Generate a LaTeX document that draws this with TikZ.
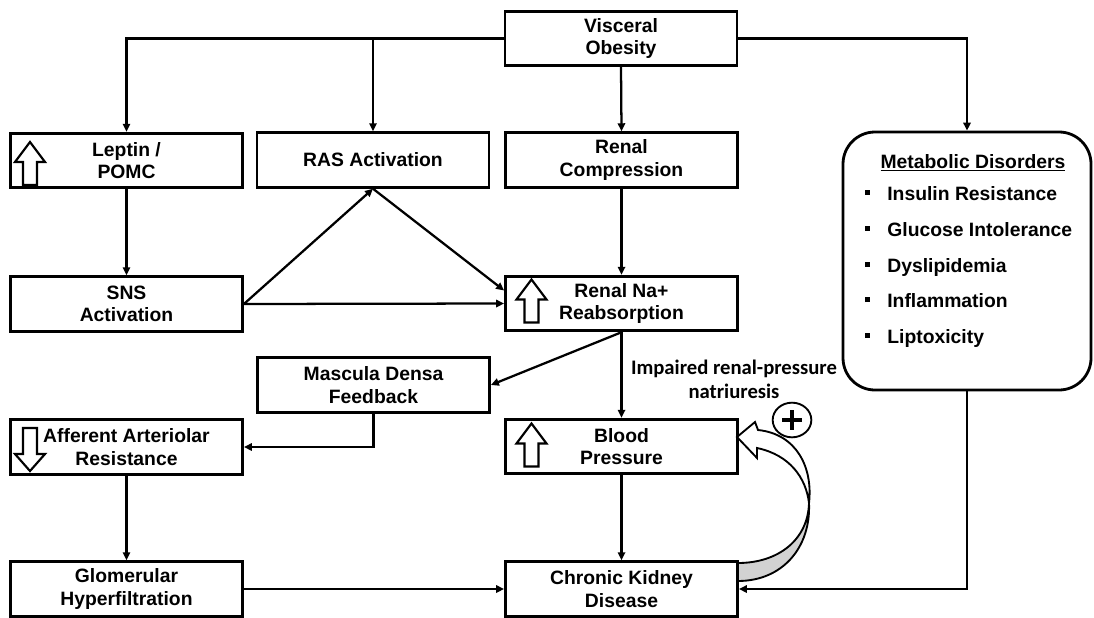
\documentclass[tikz,border=0pt]{standalone}
\usepackage{fontspec}
\setmainfont{Liberation Sans}
\newfontfamily\calib{Carlito}
\usetikzlibrary{arrows.meta,calc,shapes.geometric}
\newcommand\mbul{\rule[4pt]{3.8pt}{3.8pt}\hspace{12.75pt}}
\begin{document}
\begin{tikzpicture}[x=0.75pt,y=-0.75pt,
  bx/.style={draw, line width=2.1pt, rectangle, fill=white, align=center, inner sep=0pt,
    font=\bfseries\fontsize{14.5}{16.8}\selectfont, minimum width=174pt, minimum height=41pt},
  mbox/.style={draw, line width=2.1pt, rectangle, rounded corners=24pt, minimum width=186pt, minimum height=193.5pt},
  txt/.style={font=\bfseries\fontsize{14.5}{16.8}\selectfont, inner sep=0pt},
  arr/.style={line width=1.7pt, -{Triangle[length=6pt,width=5.5pt]}},
  hollowup/.pic={\draw[line width=1.6pt, fill=white, line join=miter] (0,-21.5) -- (15,-1.5) -- (7,-1.5) -- (7,21.5) -- (-7,21.5) -- (-7,-1.5) -- (-15,-1.5) -- cycle;},
  hollowdown/.pic={\draw[line width=1.6pt, fill=white, line join=miter] (0,21.5) -- (15,4.5) -- (7,4.5) -- (7,-21.5) -- (-7,-21.5) -- (-7,4.5) -- (-15,4.5) -- cycle;}
]
\useasboundingbox (0,0) rectangle (1094,617);

% boxes
\node[bx] (vis) at (621,38.5) {Visceral\\Obesity};
\node[bx] (lep) at (126.5,160.5) {Leptin /\\POMC};
\node[bx] (ras) at (373,160) {RAS Activation};
\node[bx] (rc) at (621.5,160) {Renal\\Compression};
\node[mbox] (met) at (967,261) {};
\node[bx] (sns) at (126.5,304) {SNS\\Activation};
\node[bx] (na) at (621.5,303.5) {Renal Na+\\Reabsorption};
\node[bx] (md) at (373.5,385) {Mascula Densa\\Feedback};
\node[bx] (aff) at (126.5,447) {Afferent Arteriolar\\Resistance};
\node[bx] (bp) at (621.5,446.5) {Blood\\Pressure};
\node[bx] (glo) at (126.5,589) {Glomerular\\Hyperfiltration};
\node[bx] (ckd) at (621.5,589) {Chronic Kidney\\Disease};

% hollow block arrows in boxes
\pic at (30,163.5) {hollowup};
\pic at (531.5,301) {hollowup};
\pic at (531.5,445) {hollowup};
\pic at (30,449.5) {hollowdown};

% metabolic disorders text
\node[txt, anchor=base] (mh) at (973,168) {\underline{Metabolic Disorders}};
\node[txt, anchor=base west] (m1) at (865,200) {\mbul Insulin Resistance};
\node[txt, anchor=base west] (m2) at (865,236) {\mbul Glucose Intolerance};
\node[txt, anchor=base west] (m3) at (865,272) {\mbul Dyslipidemia};
\node[txt, anchor=base west] (m4) at (865,307.5) {\mbul Inflammation};
\node[txt, anchor=base west] (m5) at (865,343) {\mbul Liptoxicity};

% connectors
\draw[arr] (vis.west) -| (lep.north);
\draw[arr] (ras.north |- vis.west) -- (ras.north);
\draw[arr] (vis.south) -- (rc.north);
\draw[arr] (vis.east) -| (met.north);
\draw[arr] (lep.south) -- (sns.north);
\draw[arr] (sns.east) -- (ras.south);
\draw[arr] (sns.east) -- (na.west);
\draw[arr] (ras.south) -- ($(na.west)+(0,-13)$);
\draw[arr] (rc.south) -- (na.north);
\draw[arr] (na.south) -- (md.east);
\draw[arr] (na.south) -- (bp.north);
\draw[arr] (md.south) |- (aff.east);
\draw[arr] (aff.south) -- (glo.north);
\draw[arr] (bp.south) -- (ckd.north);
\draw[arr] (glo.east) -- (ckd.west);
\draw[arr] (met.south) |- (ckd.east);

% label
\node[font=\calib\bfseries\fontsize{15.5}{18}\selectfont, align=center, inner sep=0pt] (imp) at (734,379) {Impaired renal-pressure\\natriuresis};

% curved feedback arrow
\draw[line width=1.4pt, fill=gray!35, line join=round] (738,563) .. controls (778,563) and (808,540) .. (809,503) .. controls (811,548) and (782,581) .. (738,581) -- cycle;
\draw[line width=1.4pt, fill=white, line join=miter] (809,503) .. controls (806,478) and (790,455) .. (757,448) -- (757,458) -- (737,437) -- (755,422) -- (758,430) .. controls (797,434) and (813,468) .. (809,503) -- cycle;

% plus sign
\node[ellipse, draw, line width=1.4pt, minimum width=29pt, minimum height=26pt, inner sep=0pt] (plus) at (792,420) {};
\draw[line width=3.6pt] ($(plus.center)+(-10,0)$) -- ($(plus.center)+(10,0)$);
\draw[line width=3.6pt] ($(plus.center)+(0,-10)$) -- ($(plus.center)+(0,10)$);
\end{tikzpicture}
\end{document}
